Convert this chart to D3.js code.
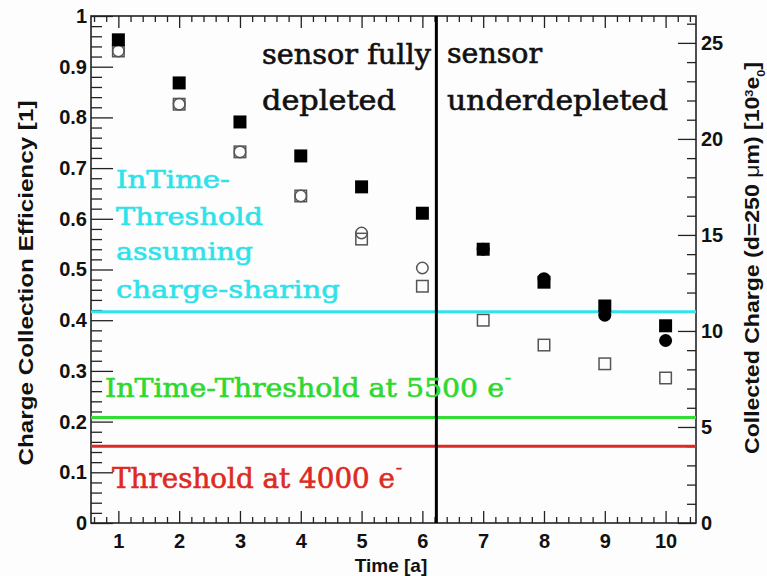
<!DOCTYPE html>
<html>
<head>
<meta charset="utf-8">
<script src="https://cdn.jsdelivr.net/npm/d3@7"></script>
<style>
    body { margin: 0; background: #fff; }
    svg text { font-family: "Liberation Sans", Arial, sans-serif; }
    .axis path { display: none; }
    .axis line { stroke: #222; stroke-width: 1.3; }
    .axis text { font-size: 20px; font-weight: bold; fill: #111; }
    .slab { font-family: "DejaVu Serif", serif !important; stroke-width: 0.6; }
</style>
</head>
<body>
<svg id="chart" width="767" height="576"></svg>
<script>
// time in years
const years = [1, 2, 3, 4, 5, 6, 7, 8, 9, 10];
// charge collection efficiency per year
const filledSquares = [0.953, 0.868, 0.791, 0.724, 0.663, 0.611, 0.540, 0.475, 0.428, 0.389];
const openSquares = [0.931, 0.826, 0.732, 0.645, 0.560, 0.467, 0.400, 0.351, 0.314, 0.286];
const circles = [0.931, 0.826, 0.732, 0.645, 0.572, 0.503, 0.540, 0.482, 0.410, 0.360];
const depletionYear = 6.23;

// thresholds in 10^3 electrons (right axis)
const thresholds = [
    { value: 11, color: '#30e4ec' },
    { value: 5.5, color: '#33dd33' },
    { value: 4, color: '#dd2a22' }
];

const yTicks = [0, 0.1, 0.2, 0.3, 0.4, 0.5, 0.6, 0.7, 0.8, 0.9, 1];
const rightTicks = [0, 5, 10, 15, 20, 25];
const xTicks = years;

const svg = d3.select('#chart');
const frame = { left: 91, right: 696, top: 16, bottom: 523 };

const x = d3.scaleLinear().domain([0.55, 10.5]).range([frame.left, frame.right]);
const y = d3.scaleLinear().domain([0, 1]).range([frame.bottom, frame.top]);
const yRight = d3.scaleLinear().domain([0, 26.4]).range([frame.bottom, frame.top]);

svg.append('rect')
    .attr('width', 767).attr('height', 576)
    .attr('fill', '#fdfdfd');

// minor ticks
const xMinor = d3.range(0.6, 10.5, 0.2).filter(v => Math.abs(v - Math.round(v)) > 0.01);
const yMinor = d3.range(0.02, 1, 0.02).filter(v => Math.abs(v * 10 - Math.round(v * 10)) > 0.01);
const rMinor = d3.range(1, 26.4, 1).filter(v => v % 5 !== 0);

svg.append('g').attr('class', 'axis')
    .attr('transform', `translate(${frame.left},0)`)
    .call(d3.axisLeft(y).tickValues(yTicks).tickSize(-22).tickPadding(4)
        .tickFormat(d => String(+d.toFixed(1))));
svg.append('g').attr('class', 'axis')
    .attr('transform', `translate(${frame.left},0)`)
    .call(d3.axisLeft(y).tickValues(yMinor).tickSize(-11).tickFormat(''));

svg.append('g').attr('class', 'axis')
    .attr('transform', `translate(${frame.right},0)`)
    .call(d3.axisRight(yRight).tickValues(rightTicks).tickSize(-18).tickPadding(5));
svg.append('g').attr('class', 'axis')
    .attr('transform', `translate(${frame.right},0)`)
    .call(d3.axisRight(yRight).tickValues(rMinor).tickSize(-9).tickFormat(''));

svg.append('g').attr('class', 'axis')
    .attr('transform', `translate(0,${frame.bottom})`)
    .call(d3.axisBottom(x).tickValues(xTicks).tickSize(-12).tickPadding(11));
svg.append('g').attr('class', 'axis')
    .attr('transform', `translate(0,${frame.bottom})`)
    .call(d3.axisBottom(x).tickValues(xMinor).tickSize(-6).tickFormat(''));
svg.append('g').attr('class', 'axis')
    .attr('transform', `translate(0,${frame.top})`)
    .call(d3.axisTop(x).tickValues(xTicks).tickSize(-12).tickFormat(''));
svg.append('g').attr('class', 'axis')
    .attr('transform', `translate(0,${frame.top})`)
    .call(d3.axisTop(x).tickValues(xMinor).tickSize(-6).tickFormat(''));

// frame
svg.append('rect')
    .attr('x', frame.left).attr('y', frame.top)
    .attr('width', frame.right - frame.left).attr('height', frame.bottom - frame.top)
    .attr('fill', 'none').attr('stroke', '#222').attr('stroke-width', 1.6);

// threshold lines
svg.selectAll('line.threshold')
    .data(thresholds)
    .enter()
    .append('line')
    .attr('class', 'threshold')
    .attr('x1', frame.left).attr('x2', frame.right)
    .attr('y1', d => yRight(d.value)).attr('y2', d => yRight(d.value))
    .attr('stroke', d => d.color)
    .attr('stroke-width', 3);

// depletion line
svg.append('line')
    .attr('x1', x(depletionYear)).attr('x2', x(depletionYear))
    .attr('y1', frame.top).attr('y2', frame.bottom)
    .attr('stroke', '#000').attr('stroke-width', 3);

// markers
const size = 13;
const open = svg.append('g').attr('fill', 'none').attr('stroke', '#555').attr('stroke-width', 1.5);

open.selectAll('rect')
    .data(years)
    .enter()
    .append('rect')
    .attr('x', (d, i) => x(d) - size / 2 + 0.75)
    .attr('y', (d, i) => y(openSquares[i]) - size / 2 + 0.75)
    .attr('width', size - 1.5).attr('height', size - 1.5);

open.selectAll('circle')
    .data(years.filter(d => d < depletionYear))
    .enter()
    .append('circle')
    .attr('cx', d => x(d))
    .attr('cy', (d, i) => y(circles[i]))
    .attr('r', size / 2 - 0.75);

svg.append('g')
    .selectAll('rect')
    .data(years)
    .enter()
    .append('rect')
    .attr('x', d => x(d) - size / 2)
    .attr('y', (d, i) => y(filledSquares[i]) - size / 2)
    .attr('width', size).attr('height', size)
    .attr('fill', '#000');

svg.append('g')
    .selectAll('circle')
    .data(years.map((d, i) => [d, circles[i]]).filter(d => d[0] > depletionYear))
    .enter()
    .append('circle')
    .attr('cx', d => x(d[0]))
    .attr('cy', d => y(d[1]))
    .attr('r', size / 2)
    .attr('fill', '#000');

// annotations
const slab = (t, px, py, len, fs, color) => svg.append('text')
    .attr('class', 'slab')
    .attr('x', px).attr('y', py)
    .attr('textLength', len)
    .attr('lengthAdjust', 'spacingAndGlyphs')
    .style('font-size', fs + 'px')
    .attr('fill', color)
    .attr('stroke', color)
    .text(t);

slab('sensor fully', 262, 64, 169, 27, '#111');
slab('depleted', 262, 110, 134, 27, '#111');
slab('sensor', 447, 63, 95, 27, '#111');
slab('underdepleted', 447, 110, 221, 27, '#111');

slab('InTime-', 116, 188, 114, 25, '#2de2ea');
slab('Threshold', 116, 225, 147, 25, '#2de2ea');
slab('assuming', 116, 260, 137, 25, '#2de2ea');
slab('charge-sharing', 116, 298, 224, 25, '#2de2ea');

slab('InTime-Threshold at 5500 e', 105, 397, 399, 26, '#2fd82f');
slab('-', 505, 383, 6, 14, '#2fd82f');
slab('Threshold at 4000 e', 112, 488, 283, 28, '#dd2a22');
slab('-', 396, 473, 6, 14, '#dd2a22');

// axis titles
svg.append('text')
    .attr('transform', 'translate(33,283) rotate(-90)')
    .attr('text-anchor', 'middle')
    .attr('textLength', 365)
    .attr('lengthAdjust', 'spacingAndGlyphs')
    .style('font-size', '21px').style('font-weight', 'bold')
    .attr('fill', '#111')
    .text('Charge Collection Efficiency [1]');

const rt = svg.append('text')
    .attr('transform', 'translate(759,258) rotate(-90)')
    .attr('text-anchor', 'middle')
    .attr('textLength', 392)
    .attr('lengthAdjust', 'spacingAndGlyphs')
    .style('font-size', '20px').style('font-weight', 'bold')
    .attr('fill', '#111');
rt.append('tspan').text('Collected Charge (d=250 ');
rt.append('tspan').style('font-weight', 'normal').text('μ');
rt.append('tspan').text('m) [10');
rt.append('tspan').attr('baseline-shift', 'super').style('font-size', '11px').text('3');
rt.append('tspan').text('e');
rt.append('tspan').attr('baseline-shift', 'sub').style('font-size', '11px').text('0');
rt.append('tspan').text(']');

svg.append('text')
    .attr('x', 391).attr('y', 572)
    .attr('text-anchor', 'middle')
    .style('font-size', '19px').style('font-weight', 'bold')
    .attr('fill', '#111')
    .text('Time [a]');
</script>
</body>
</html>
